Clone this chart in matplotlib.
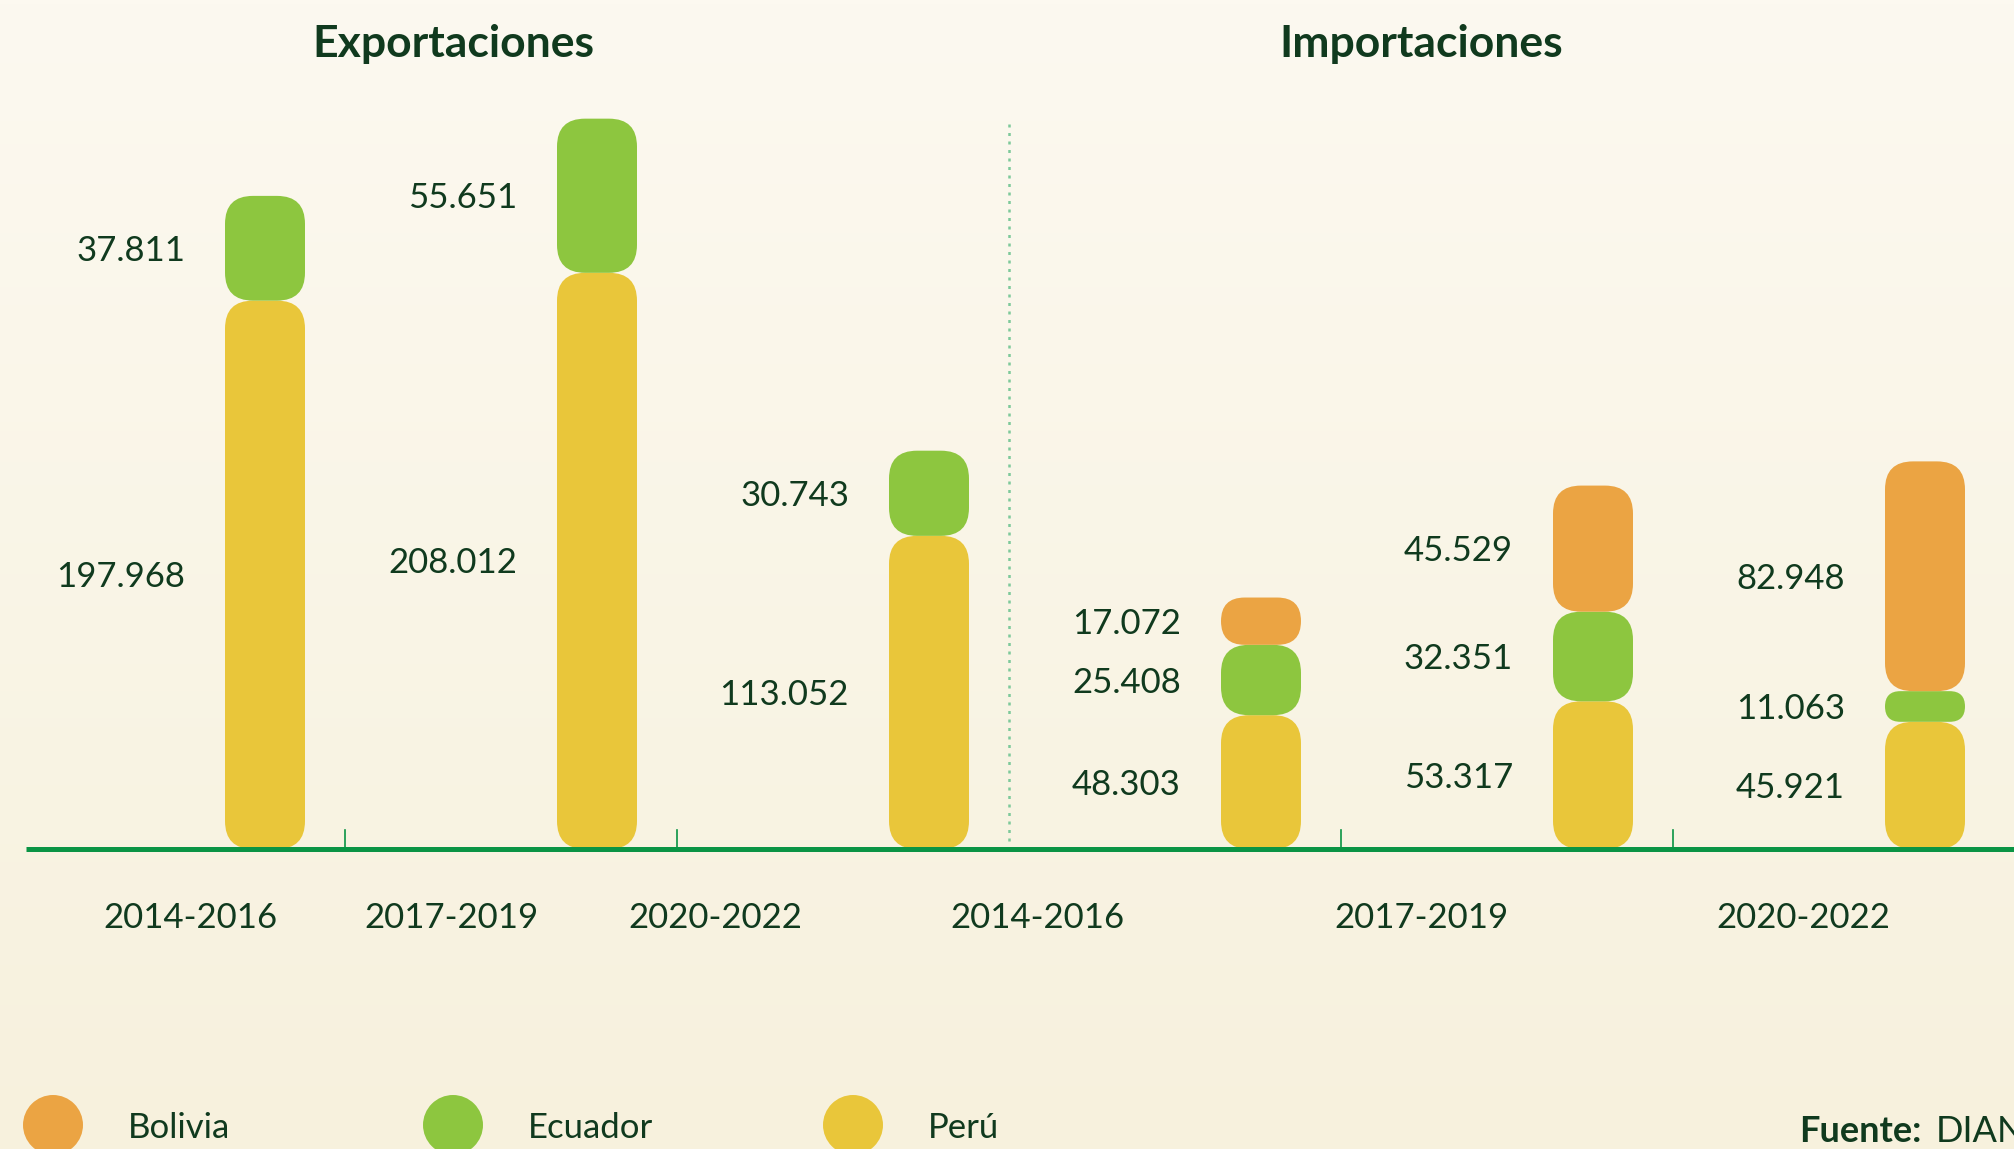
import numpy as np
import matplotlib.pyplot as plt
from matplotlib.patches import FancyBboxPatch
from matplotlib.colors import LinearSegmentedColormap

plt.rcParams['font.family'] = ['Lato', 'DejaVu Sans']

# ── data ────────────────────────────────────────────────────────────────────
periods = ['2014-2016', '2017-2019', '2020-2022']
exp_peru = [197.968, 208.012, 113.052]
exp_ecuador = [37.811, 55.651, 30.743]
imp_peru = [48.303, 53.317, 45.921]
imp_ecuador = [25.408, 32.351, 11.063]
imp_bolivia = [17.072, 45.529, 82.948]

countries = ['Bolivia', 'Ecuador', 'Perú']
colors = {'Bolivia': '#EBA443', 'Ecuador': '#8DC63F', 'Perú': '#E9C63A'}

TXT = '#103A1E'
GREEN = '#0A9444'

# ── layout (pixels of the 2014x1149 canvas) ─────────────────────────────────
W, H = 2014, 1149
X0_PX, PX_X = 265, 332      # bar 0 centre, px per bar slot
BASE_PX, PX_Y = 849, 2.77   # baseline, px per unit
BAR_W = 80 / PX_X
RADIUS = 28 / PX_X
LABEL_GAP = 40 / PX_X

fig = plt.figure(figsize=(W / 100, H / 100), dpi=100)

# background gradient
bg = fig.add_axes([0, 0, 1, 1], zorder=0)
grad = np.linspace(0, 1, 256).reshape(-1, 1)
bg.imshow(grad, aspect='auto', extent=[0, 1, 0, 1],
          cmap=LinearSegmentedColormap.from_list('bg', ['#FCF9F0', '#F7F1DD']))
bg.axis('off')

ax = fig.add_axes([0, 0, 1, 1], zorder=1)
ax.patch.set_alpha(0)
ax.set_xlim(-X0_PX / PX_X, (W - X0_PX) / PX_X)
ax.set_ylim(-(H - BASE_PX) / PX_Y, BASE_PX / PX_Y)
ax.axis('off')


def px_to_y(py):
    return (BASE_PX - py) / PX_Y


def px_to_x(px):
    return (px - X0_PX) / PX_X


def segment(x, y0, h, color):
    h_x = h * PX_Y / PX_X
    r = min(RADIUS, BAR_W / 2, h_x / 2)
    p = FancyBboxPatch((x - BAR_W / 2, y0), BAR_W, h,
                       boxstyle=f'round,pad=0,rounding_size={r}',
                       mutation_aspect=PX_X / PX_Y,
                       fc=color, ec='none', lw=0, zorder=3)
    ax.add_patch(p)


stacks = []
for i in range(3):
    stacks.append([('Perú', exp_peru[i]), ('Ecuador', exp_ecuador[i])])
for i in range(3):
    stacks.append([('Perú', imp_peru[i]), ('Ecuador', imp_ecuador[i]),
                   ('Bolivia', imp_bolivia[i])])

for x, stack in enumerate(stacks):
    bottom = 0
    for country, val in stack:
        segment(x, bottom, val, colors[country])
        mid = bottom + val / 2
        ax.text(x - BAR_W / 2 - LABEL_GAP, mid - 12.5 / PX_Y, f'{val:.3f}',
                ha='right', va='baseline', fontsize=25, color=TXT)
        bottom += val

totals = [sum(v for _, v in s) for s in stacks]

# baseline, ticks, divider
ax.plot([px_to_x(26), ax.get_xlim()[1]], [0, 0], color=GREEN, lw=3.6,
        solid_capstyle='butt', zorder=4)
for tx in [0.24, 1.24, 3.24, 4.24]:
    ax.plot([tx, tx], [0, 19 / PX_Y], color=GREEN, lw=1.2, zorder=2)
ax.plot([2.24, 2.24], [3, max(totals)], color='#7DC99A', lw=1.8,
        ls=(0, (1.2, 2.2)), zorder=2)

# category labels
label_x = [-0.226, 0.563, 1.355, 2.328, 3.482, 4.633]
for lx, lab in zip(label_x, periods + periods):
    ax.text(lx, px_to_y(928), lab, ha='center', va='baseline',
            fontsize=25, color=TXT)

# titles
ax.text(px_to_x(453), px_to_y(57), 'Exportaciones', ha='center', va='baseline',
        fontsize=32, fontweight='bold', color=TXT)
ax.text(px_to_x(1421), px_to_y(57), 'Importaciones', ha='center', va='baseline',
        fontsize=32, fontweight='bold', color=TXT)

# legend
leg_circle_px = [53, 453, 853]
for cx, country in zip(leg_circle_px, countries):
    ax.scatter([px_to_x(cx)], [px_to_y(1125)], s=(60 / 1.389) ** 2,
               color=colors[country], edgecolors='none', zorder=3, clip_on=False)
    ax.text(px_to_x(cx + 75), px_to_y(1138), country, ha='left', va='baseline',
            fontsize=25, color=TXT)

# source
ax.text(px_to_x(1799), px_to_y(1142), 'Fuente:', ha='left', va='baseline',
        fontsize=26, fontweight='bold', color=TXT)
ax.text(px_to_x(1936), px_to_y(1142), 'DIAN', ha='left', va='baseline',
        fontsize=26, color=TXT)

fig.savefig('out.png', dpi=100)
